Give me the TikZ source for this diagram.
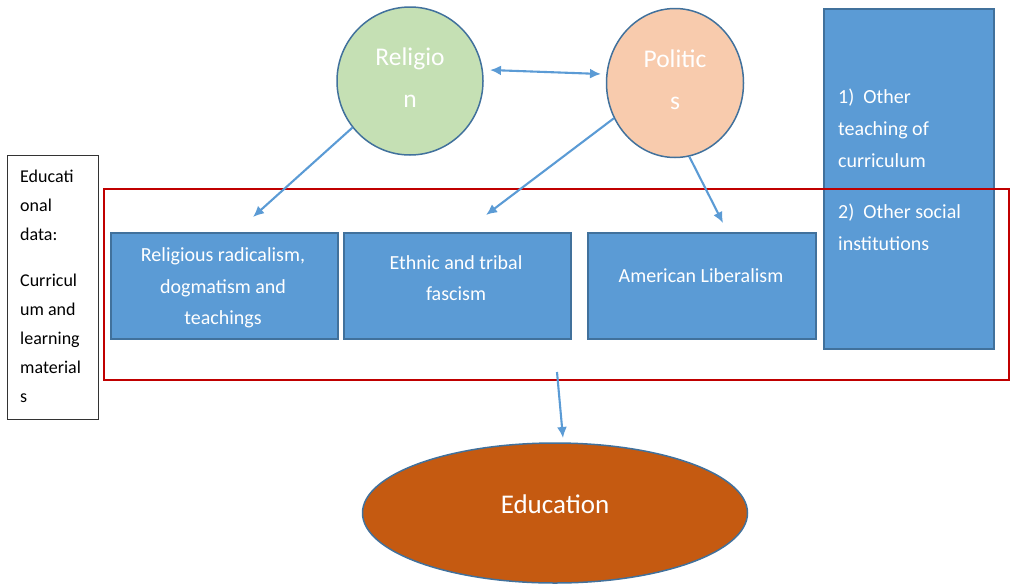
\documentclass[tikz,border=0pt]{standalone}
\usepackage{fontspec}
\setmainfont{Carlito}
\usetikzlibrary{shapes.geometric,arrows.meta}
\definecolor{boxblue}{HTML}{5B9BD5}
\definecolor{edgeblue}{HTML}{41719C}
\definecolor{relgreen}{HTML}{C5E0B4}
\definecolor{polpeach}{HTML}{F8CBAD}
\definecolor{eduorange}{HTML}{C55A11}
\definecolor{redframe}{HTML}{C00000}
\tikzset{
  bluebox/.style={draw=edgeblue, line width=1.5pt, fill=boxblue, inner sep=0pt, text=white, align=center, anchor=north west},
  topic/.style={draw=edgeblue, line width=1.5pt, ellipse, inner sep=0pt, text=white, align=center, font=\fontsize{25.5}{42}\selectfont},
  conn/.style={draw=boxblue, line width=2.1pt, -{Latex[length=11pt,width=10pt]}},
  boxtext/.style={font=\fontsize{20}{31.5}\selectfont}
}
\begin{document}
\begin{tikzpicture}[x=1pt,y=-1pt]
\useasboundingbox (0,0) rectangle (1014,584);
% circles
\node[topic, fill=relgreen, minimum width=146pt, minimum height=148pt] (rel) at (410,81) {};
\node[text=white, font=\fontsize{25.5}{42}\selectfont, align=center, inner sep=0pt] (relt) at (410,78) {Religio\\n};
\node[topic, fill=polpeach, minimum width=137pt, minimum height=149pt] (pol) at (675,83) {};
\node[text=white, font=\fontsize{25.5}{42}\selectfont, align=center, inner sep=0pt] (polt) at (675,80) {Politic\\s};
% right tall box
\node[bluebox, minimum width=170pt, minimum height=340pt] (other) at (823,8) {};
\node[font=\fontsize{20}{32}\selectfont, text=white, align=left, anchor=north west, inner sep=0pt] (othertxt) at (838,89) {1)\ \ Other\\teaching of\\curriculum\\[19pt]2)\ \ Other social\\institutions};
% red frame
\node[draw=redframe, line width=1.8pt, minimum width=905pt, minimum height=191pt, anchor=north west, inner sep=0pt] (frame) at (103,188) {};
% left text box
\node[draw=black!80, line width=1.2pt, minimum width=91pt, minimum height=264pt, anchor=north west, inner sep=0pt] (data) at (7,155) {};
\node[font=\fontsize{18}{29}\selectfont, align=left, anchor=north west, inner sep=0pt] (datatxt) at (20,170) {Educati\\onal\\data:\\[17pt]Curricul\\um and\\learning\\material\\s};
% blue boxes
\node[bluebox, minimum width=227pt, minimum height=106pt] (b1) at (110,232) {};
\node[boxtext, text=white, align=center, inner sep=0pt] (b1t) at (223,288) {Religious radicalism,\\dogmatism and\\teachings};
\node[bluebox, minimum width=227pt, minimum height=106pt] (b2) at (343,232) {};
\node[boxtext, text=white, align=center, inner sep=0pt] (b2t) at (456,278) {Ethnic and tribal\\fascism};
\node[bluebox, minimum width=228pt, minimum height=106pt] (b3) at (587,232) {};
\node[boxtext, text=white, align=center, inner sep=0pt] (b3t) at (701,276) {American Liberalism};
% education
\node[topic, fill=eduorange, minimum width=385pt, minimum height=140pt] (edu) at (555,513) {};
\node[text=white, font=\fontsize{27}{30}\selectfont, inner sep=0pt] (edut) at (555,504) {Education};
% arrow end points
\coordinate (e1) at (253,217);
\coordinate (e2) at (486,215);
\coordinate (e3) at (723,223);
\coordinate (s4) at (557,372);
\coordinate (e4) at (563,438);
\coordinate (d1) at (490,70);
\coordinate (d2) at (601,74);
% connectors
\draw[conn, {Latex[length=11pt,width=10pt]}-{Latex[length=11pt,width=10pt]}] (d1) -- (d2);
\draw[conn] (rel.219) -- (e1);
\draw[conn] (pol.210) -- (e2);
\draw[conn] (pol.281) -- (e3);
\draw[conn] (s4) -- (e4);
\end{tikzpicture}
\end{document}
